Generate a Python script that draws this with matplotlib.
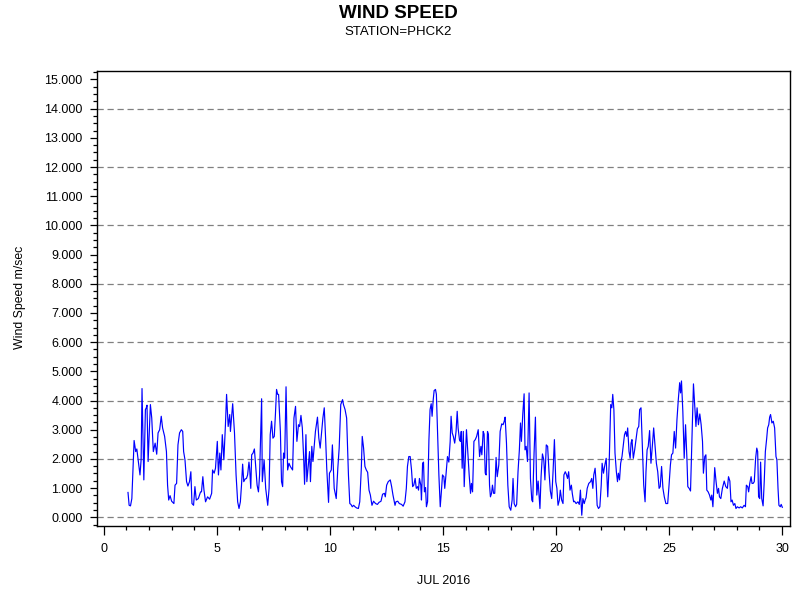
import matplotlib
matplotlib.use("Agg")
import matplotlib.pyplot as plt
from matplotlib.ticker import MultipleLocator, FormatStrFormatter
import numpy as np

plt.rcParams['font.family'] = ['Liberation Sans', 'DejaVu Sans']

title = "WIND SPEED"
subtitle = "STATION=PHCK2"
xlabel = "JUL 2016"
ylabel = "Wind Speed m/sec"

day = [
 1.07, 1.12, 1.18, 1.24, 1.34, 1.41, 1.46, 1.53, 1.60, 1.65, 1.69, 1.77, 1.84, 1.88, 1.91, 1.96,
 2.06, 2.12, 2.19, 2.27, 2.34, 2.40, 2.47, 2.54, 2.60, 2.69, 2.77, 2.82, 2.87, 2.93, 3.00, 3.10,
 3.15, 3.22, 3.28, 3.35, 3.43, 3.49, 3.53, 3.59, 3.66, 3.72, 3.79, 3.85, 3.90, 3.97, 4.03, 4.09,
 4.18, 4.28, 4.32, 4.38, 4.43, 4.50, 4.59, 4.68, 4.77, 4.81, 4.88, 4.94, 5.02, 5.07, 5.13, 5.18,
 5.24, 5.31, 5.38, 5.43, 5.50, 5.57,
 5.60, 5.70, 5.78, 5.85, 5.92, 5.98, 6.04, 6.09, 6.14, 6.19, 6.25, 6.31, 6.36, 6.42, 6.45, 6.50,
 6.54, 6.60, 6.66, 6.72, 6.78, 6.84, 6.89, 6.98, 7.01, 7.09, 7.16, 7.25, 7.31, 7.36, 7.42, 7.48,
 7.54, 7.59, 7.64, 7.69, 7.73, 7.81, 7.86, 7.91, 7.95, 8.00, 8.06, 8.13, 8.19, 8.25, 8.35, 8.41,
 8.48, 8.54, 8.61, 8.66, 8.72, 8.78, 8.84, 8.88, 8.94, 8.98, 9.04, 9.10, 9.14, 9.20, 9.25, 9.31,
 9.36, 9.45, 9.51, 9.57, 9.63, 9.69, 9.75, 9.81, 9.86, 9.94, 9.98, 10.06, 10.11, 10.19, 10.28, 10.35,
 10.41, 10.48, 10.56, 10.60,
 10.67, 10.74, 10.82, 10.88, 10.93, 10.99, 11.05, 11.11, 11.18, 11.26, 11.32, 11.39, 11.43, 11.49, 11.55, 11.61,
 11.67, 11.73, 11.79, 11.86, 11.93, 12.02, 12.10, 12.17, 12.26, 12.33, 12.41, 12.45, 12.51, 12.58, 12.67, 12.73,
 12.79, 12.88, 12.92, 13.00, 13.07, 13.17, 13.24, 13.32, 13.38, 13.43, 13.49, 13.55, 13.61, 13.66, 13.71, 13.77,
 13.82, 13.88, 13.92, 13.96, 14.02, 14.05, 14.10, 14.14, 14.18, 14.23, 14.27, 14.32, 14.38, 14.43, 14.48, 14.52,
 14.57, 14.61, 14.67, 14.71, 14.76, 14.82, 14.88, 14.93, 14.98, 15.04, 15.08, 15.14, 15.20, 15.26, 15.32, 15.36,
 15.41, 15.46, 15.52, 15.58, 15.63, 15.67, 15.73, 15.77,
 15.81, 15.85, 15.90, 15.94, 16.00, 16.04, 16.10, 16.16, 16.22, 16.26, 16.31, 16.37, 16.43, 16.49, 16.56, 16.62,
 16.68, 16.72, 16.78, 16.82, 16.87, 16.91, 16.97, 17.01, 17.06, 17.10, 17.15, 17.19, 17.24, 17.29, 17.35, 17.40,
 17.47, 17.53, 17.60, 17.66, 17.71, 17.75, 17.81, 17.87, 17.93, 18.00, 18.06, 18.10, 18.15, 18.21, 18.26, 18.32,
 18.38, 18.43, 18.47, 18.53, 18.59, 18.63, 18.68, 18.74, 18.81, 18.87, 18.93, 18.97, 19.03, 19.09, 19.15, 19.21,
 19.25, 19.29, 19.34, 19.40, 19.46, 19.51, 19.57, 19.63, 19.69, 19.75, 19.81, 19.87, 19.93, 19.99, 20.04, 20.09,
 20.15, 20.19, 20.25, 20.31, 20.35, 20.41, 20.46, 20.51, 20.56, 20.62, 20.68, 20.72, 20.78,
 20.82, 20.89, 20.97, 21.03, 21.08, 21.14, 21.19, 21.25, 21.29, 21.33, 21.38, 21.45, 21.53, 21.58, 21.63, 21.67,
 21.73, 21.78, 21.82, 21.88, 21.94, 22.00, 22.04, 22.10, 22.16, 22.22, 22.29, 22.35, 22.42, 22.47, 22.51, 22.56,
 22.61, 22.67, 22.72, 22.76, 22.81, 22.86, 22.92, 22.98, 23.03, 23.08, 23.13, 23.17, 23.23, 23.28, 23.32, 23.36,
 23.42, 23.48, 23.54, 23.60, 23.66, 23.70, 23.76, 23.82, 23.88, 23.94, 23.98, 24.03, 24.08, 24.14, 24.20, 24.26,
 24.32, 24.38, 24.44, 24.50, 24.56, 24.61, 24.67, 24.73, 24.79, 24.86, 24.94, 25.00, 25.06, 25.11, 25.17, 25.23,
 25.29, 25.35, 25.41, 25.47, 25.51, 25.55, 25.61,
 25.67, 25.73, 25.79, 25.83, 25.89, 25.95, 26.01, 26.08, 26.14, 26.19, 26.24, 26.30, 26.36, 26.42, 26.48, 26.52,
 26.58, 26.63, 26.67, 26.73, 26.79, 26.85, 26.89, 26.94, 26.98, 27.02, 27.08, 27.14, 27.19, 27.23, 27.29, 27.36,
 27.44, 27.51, 27.58, 27.63, 27.69, 27.74, 27.79, 27.85, 27.91, 27.96, 28.02, 28.10, 28.17, 28.24, 28.32, 28.38,
 28.42, 28.48, 28.52, 28.57, 28.63, 28.67, 28.72, 28.77, 28.83, 28.88, 28.92, 28.96, 29.01, 29.05, 29.10, 29.16,
 29.21, 29.26, 29.32, 29.36, 29.41, 29.45, 29.49, 29.55, 29.61, 29.67, 29.73, 29.77, 29.82, 29.86, 29.92, 29.96,
 30.01,
]

speed = [
 0.85, 0.41, 0.39, 0.64, 2.63, 2.25, 2.34, 1.89, 1.45, 1.97, 4.41, 1.28, 3.69, 3.75, 3.84, 1.91,
 3.86, 3.40, 2.25, 2.54, 2.16, 2.89, 3.00, 3.46, 3.06, 2.77, 2.25, 1.10, 0.59, 0.74, 0.55, 0.47,
 1.10, 1.16, 2.48, 2.89, 3.00, 2.94, 2.25, 1.97, 1.22, 1.07, 1.22, 1.56, 0.47, 0.41, 1.05, 0.59,
 0.64, 0.87, 0.87, 1.39, 0.93, 0.53, 0.70, 0.62, 0.82, 1.62, 1.51, 1.68, 2.60, 1.45, 2.20, 1.62,
 2.83, 1.97, 3.17, 4.21, 3.11, 3.52,
 2.94, 3.89, 2.89, 1.45, 0.53, 0.30, 0.53, 1.10, 1.82, 1.22, 1.31, 1.33, 1.45, 1.89, 1.68, 0.99,
 2.14, 2.20, 2.34, 1.74, 1.10, 0.87, 1.45, 4.06, 1.22, 1.97, 0.99, 0.41, 0.99, 2.83, 3.29, 2.71,
 2.77, 3.52, 4.38, 4.21, 4.21, 2.94, 1.22, 1.05, 2.20, 2.02, 4.47, 1.62, 1.85, 1.74, 1.62, 3.40,
 3.80, 2.60, 3.17, 3.11, 3.49, 3.06, 2.02, 1.13, 2.83, 1.22, 1.74, 2.25, 1.22, 2.43, 1.91, 2.48,
 2.94, 3.43, 2.71, 2.37, 2.89, 3.40, 3.75, 2.71, 1.68, 0.51, 1.51, 1.62, 2.48, 0.99, 0.64, 1.68,
 2.37, 3.86, 4.03, 3.86,
 3.69, 3.40, 1.45, 0.47, 0.44, 0.36, 0.41, 0.36, 0.32, 0.30, 0.53, 1.68, 2.77, 2.37, 1.74, 1.62,
 1.54, 0.93, 0.76, 0.41, 0.55, 0.47, 0.44, 0.51, 0.55, 0.79, 0.82, 0.70, 1.10, 1.22, 1.28, 1.05,
 0.76, 0.41, 0.53, 0.55, 0.47, 0.44, 0.38, 0.53, 0.99, 1.74, 2.08, 2.08, 1.62, 1.05, 1.10, 1.33,
 0.99, 1.05, 0.93, 1.33, 1.10, 0.59, 1.85, 1.89, 0.87, 1.02, 0.36, 0.53, 2.66, 3.69, 3.89, 3.46,
 4.03, 4.34, 4.38, 4.21, 3.00, 1.45, 0.36, 0.87, 1.45, 1.39, 0.99, 1.51, 2.08, 1.89, 2.60, 3.46,
 2.89, 2.77, 2.54, 2.94, 3.63, 3.06, 2.66, 2.60,
 2.94, 1.68, 2.94, 1.05, 2.20, 3.00, 2.25, 1.45, 0.82, 1.16, 0.87, 2.60, 2.66, 2.77, 3.00, 2.08,
 2.43, 2.14, 2.94, 2.85, 1.51, 1.45, 2.94, 2.85, 1.10, 0.70, 0.82, 1.10, 0.82, 0.82, 2.05, 1.39,
 1.79, 2.94, 3.20, 3.17, 3.29, 3.43, 2.54, 1.10, 0.36, 0.24, 0.59, 1.33, 0.47, 0.36, 0.44, 1.56,
 2.31, 3.23, 2.60, 3.52, 4.23, 2.31, 2.43, 1.91, 4.26, 1.33, 0.59, 0.53, 2.20, 3.43, 0.76, 1.24,
 0.76, 0.30, 1.39, 2.17, 1.97, 1.28, 2.48, 2.43, 1.56, 0.90, 0.64, 1.56, 2.66, 1.22, 0.99, 0.41,
 0.59, 0.93, 0.59, 0.47, 1.45, 1.56, 1.47, 1.33, 1.56, 0.93, 1.10, 0.82, 0.53,
 0.55, 0.47, 0.53, 0.44, 0.93, 0.07, 0.64, 0.47, 0.59, 0.67, 0.99, 1.16, 1.22, 1.33, 0.99, 1.45,
 1.68, 1.10, 0.41, 0.30, 0.36, 1.10, 1.85, 1.51, 1.79, 2.02, 0.70, 1.79, 3.86, 3.75, 4.21, 3.69,
 2.20, 1.56, 1.22, 1.51, 1.28, 1.85, 2.08, 2.48, 2.83, 2.94, 2.77, 3.06, 2.25, 2.02, 2.54, 2.66,
 2.02, 2.31, 2.66, 3.03, 3.11, 3.69, 3.75, 2.43, 1.10, 0.53, 1.56, 2.31, 2.43, 2.97, 1.85, 2.43,
 3.06, 2.43, 1.85, 1.56, 0.99, 1.05, 1.74, 0.99, 0.70, 0.47, 0.47, 1.10, 1.79, 2.14, 2.20, 2.94,
 2.37, 3.34, 4.03, 4.61, 4.26, 4.67, 3.63,
 2.02, 3.17, 2.02, 1.05, 0.99, 0.90, 2.60, 4.57, 3.75, 3.11, 3.75, 3.17, 3.54, 3.17, 2.60, 1.51,
 2.08, 2.14, 0.93, 0.87, 0.76, 0.59, 0.76, 0.36, 0.99, 1.70, 1.22, 0.82, 0.99, 0.70, 0.64, 0.99,
 1.24, 1.05, 0.99, 1.39, 1.24, 0.53, 0.59, 0.41, 0.47, 0.30, 0.36, 0.32, 0.36, 0.32, 0.41, 0.36,
 1.10, 1.05, 0.87, 1.16, 1.39, 1.16, 1.16, 1.22, 2.02, 2.37, 2.25, 0.70, 0.64, 1.89, 0.64, 0.39,
 1.22, 2.25, 2.71, 3.06, 3.17, 3.43, 3.52, 3.23, 3.29, 3.06, 2.08, 1.97, 0.99, 0.41, 0.36, 0.44,
 0.34,
]

x_ticks = [0, 5, 10, 15, 20, 25, 30]
y_ticks = list(range(0, 16))
grid_levels = list(range(0, 16, 2))

fig = plt.figure(figsize=(8, 6), dpi=100)
ax = fig.add_axes([0.121, 0.1233, 0.8665, 0.7584])

for g in grid_levels:
    ax.axhline(g, color='#808080', linewidth=0.9, linestyle=(0, (5, 3)), zorder=1)

ax.plot(day, speed, color='#0000ff', linewidth=0.85, zorder=3)

ax.set_xlim(-0.31, 30.35)
ax.set_ylim(-0.3, 15.29)

ax.set_xticks(x_ticks)
ax.set_yticks(y_ticks)
ax.xaxis.set_minor_locator(MultipleLocator(1))
ax.yaxis.set_minor_locator(MultipleLocator(0.25))
ax.yaxis.set_major_formatter(FormatStrFormatter('%.3f'))

ax.tick_params(axis='both', which='both', colors='black', width=0.9, direction='out')
ax.tick_params(axis='y', which='major', length=5.2, labelsize=9, pad=5)
ax.tick_params(axis='y', which='minor', length=2.6)
ax.tick_params(axis='x', which='major', length=6.5, labelsize=9, pad=6)
ax.tick_params(axis='x', which='minor', length=3.2)

for s in ax.spines.values():
    s.set_linewidth(1.0)
    s.set_color('black')

fig.text(0.4975, 0.978, title, ha='center', va='center', fontsize=13.5, fontweight='bold')
fig.text(0.4975, 0.947, subtitle, ha='center', va='center', fontsize=9.5)
fig.text(0.554, 0.032, xlabel, ha='center', va='center', fontsize=9)
fig.text(0.025, 0.505, ylabel, ha='center', va='center', rotation=90, fontsize=8.8)

fig.savefig('out.png', dpi=100)
